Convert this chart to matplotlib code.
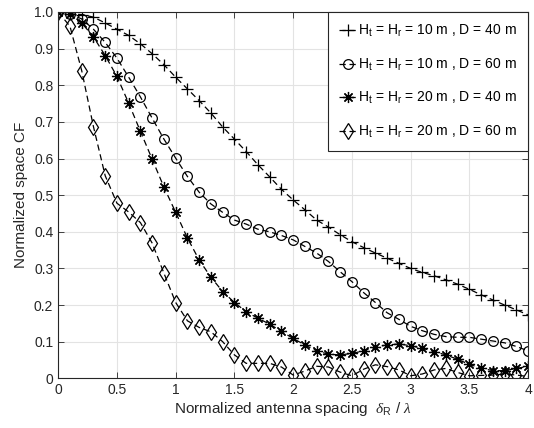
import numpy as np
import matplotlib
matplotlib.use("Agg")
import matplotlib.pyplot as plt

plt.rcParams['font.family'] = ['Liberation Sans', 'DejaVu Sans']
plt.rcParams['mathtext.fontset'] = 'custom'
plt.rcParams['mathtext.rm'] = 'Liberation Sans'
plt.rcParams['mathtext.it'] = 'Liberation Serif:italic'

# normalized antenna spacing delta_R / lambda
spacing = np.round(np.arange(0, 4.01, 0.1), 1)

# Ht = Hr = 10 m, D = 40 m
cf_10_40 = [1.0, 0.995, 0.993, 0.986, 0.970, 0.953, 0.936, 0.913, 0.886, 0.856,
            0.822, 0.790, 0.758, 0.724, 0.686, 0.653, 0.619, 0.583, 0.550, 0.516,
            0.487, 0.460, 0.432, 0.413, 0.392, 0.373, 0.357, 0.342, 0.328, 0.314,
            0.300, 0.289, 0.280, 0.269, 0.257, 0.243, 0.228, 0.214, 0.200, 0.187,
            0.173]
# Ht = Hr = 10 m, D = 60 m
cf_10_60 = [1.0, 0.995, 0.981, 0.953, 0.917, 0.874, 0.822, 0.768, 0.710, 0.653,
            0.601, 0.551, 0.508, 0.476, 0.453, 0.432, 0.421, 0.407, 0.400, 0.390,
            0.378, 0.360, 0.342, 0.319, 0.291, 0.264, 0.234, 0.207, 0.179, 0.161,
            0.142, 0.130, 0.120, 0.114, 0.112, 0.112, 0.107, 0.102, 0.097, 0.087,
            0.075]
# Ht = Hr = 20 m, D = 40 m
cf_20_40 = [1.0, 0.995, 0.970, 0.932, 0.881, 0.824, 0.751, 0.674, 0.598, 0.522,
            0.453, 0.383, 0.323, 0.276, 0.237, 0.207, 0.182, 0.164, 0.148, 0.128,
            0.109, 0.091, 0.075, 0.066, 0.064, 0.068, 0.075, 0.086, 0.091, 0.094,
            0.089, 0.082, 0.073, 0.064, 0.052, 0.038, 0.028, 0.021, 0.021, 0.027,
            0.033]
# Ht = Hr = 20 m, D = 60 m
cf_20_60 = [1.0, 0.961, 0.840, 0.687, 0.553, 0.478, 0.454, 0.425, 0.369, 0.287,
            0.207, 0.157, 0.139, 0.127, 0.100, 0.064, 0.041, 0.041, 0.041, 0.031,
            0.009, 0.020, 0.033, 0.031, 0.017, 0.007, 0.025, 0.037, 0.032, 0.023,
            0.007, 0.012, 0.023, 0.027, 0.016, 0.007, 0.008, 0.009, 0.012, 0.009,
            0.005]

labels = [r"H$_{\rm t}$ = H$_{\rm r}$ = 10 m , D = 40 m",
          r"H$_{\rm t}$ = H$_{\rm r}$ = 10 m , D = 60 m",
          r"H$_{\rm t}$ = H$_{\rm r}$ = 20 m , D = 40 m",
          r"H$_{\rm t}$ = H$_{\rm r}$ = 20 m , D = 60 m"]

fig = plt.figure(figsize=(5.34, 4.28), dpi=100)
ax = fig.add_axes([0.109, 0.116, 0.88, 0.856])

common = dict(color='black', linestyle='--', dashes=(5, 3), linewidth=0.9,
              markerfacecolor='none', markeredgecolor='black', markeredgewidth=0.9)
ax.plot(spacing, cf_10_40, marker='+', markersize=8, label=labels[0], **common)
ax.plot(spacing, cf_10_60, marker='o', markersize=7, label=labels[1], **common)
ax.plot(spacing, cf_20_40, marker=(8, 2, 0), markersize=8, label=labels[2], **common)
ax.plot(spacing, cf_20_60, marker='d', markersize=8.5, label=labels[3], **common)

ax.set_xlim(0, 4)
ax.set_ylim(0, 1.0)
ax.set_xticks(np.arange(0, 4.01, 0.5))
ax.set_xticklabels(['0', '0.5', '1', '1.5', '2', '2.5', '3', '3.5', '4'])
ax.set_yticks(np.arange(0, 1.01, 0.1))
ax.set_yticklabels(['0', '0.1', '0.2', '0.3', '0.4', '0.5', '0.6', '0.7', '0.8', '0.9', '1.0'])
ax.tick_params(direction='in', length=4, width=0.6, labelsize=10,
               top=True, right=True, colors='#262626', labelcolor='#262626')
ax.grid(True, color='#e3e3e3', linewidth=0.8)
ax.set_axisbelow(True)
for s in ax.spines.values():
    s.set_color('#262626')
    s.set_linewidth(0.8)

ax.set_xlabel(r"Normalized antenna spacing  $\delta_{\rm R}$ / $\lambda$", fontsize=11, color='#262626',
              labelpad=2)
ax.set_ylabel("Normalized space CF", fontsize=11, color='#262626')

leg = ax.legend(loc='upper right', fontsize=10, handlelength=1.2, labelspacing=1.25,
                handletextpad=0.15, borderpad=0.8, borderaxespad=0,
                fancybox=False, framealpha=1, edgecolor='#262626')
leg.get_frame().set_linewidth(0.8)

fig.savefig('out.png', dpi=100)
